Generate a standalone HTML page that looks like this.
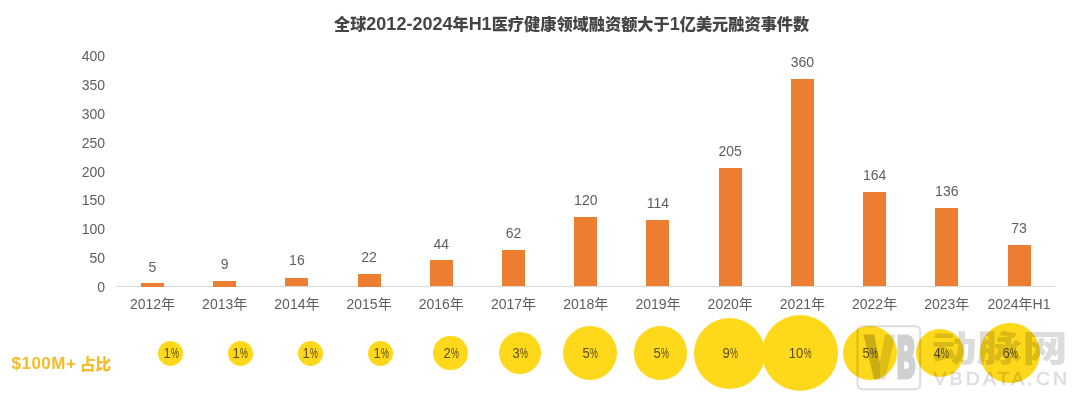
<!DOCTYPE html>
<html lang="zh-CN"><head><meta charset="utf-8"><title>chart</title>
<style>
html,body{margin:0;padding:0;background:#fff;}
body{width:1080px;height:401px;position:relative;overflow:hidden;font-family:"Liberation Sans","Noto Sans CJK SC",sans-serif;color:#5e5e5e;}
.abs{position:absolute;white-space:nowrap;}
.title{left:271.6px;width:600px;top:12px;text-align:center;font-weight:900;font-size:16.2px;line-height:24px;color:#454545;}
.title b{font-size:18px;font-weight:bold;}
.yl{width:40px;text-align:right;left:65px;font-size:14px;line-height:16px;}
.xl{width:90px;text-align:center;font-size:14px;line-height:16px;top:296px;}
.vl{width:60px;text-align:center;font-size:14px;line-height:16px;}
.bar{background:#ed7d31;width:23px;}
.axis{left:116px;top:286px;width:939px;height:1px;background:#d9d9d9;}
.bub{border-radius:50%;background:#fdd81b;}
.pl{width:60px;text-align:center;font-size:14px;line-height:16px;color:#5e4e14;transform:scaleX(.93);}
.pl i{font-style:normal;display:inline-block;transform:scaleX(.68);transform-origin:0 50%;margin-right:-4px;}
.lab{left:11.5px;top:352.2px;font-weight:900;font-size:15.5px;line-height:24px;color:#f6bb28;}
.lab span{position:relative;top:.7px;}
.lab b{font-size:17px;font-weight:bold;letter-spacing:.5px;margin-right:3.5px;}
</style></head><body>

<div class="abs title">全球<b>2012-2024</b>年<b>H1</b>医疗健康领域融资额大于<b>1</b>亿美元融资事件数</div>
<div class="abs yl" style="top:278.9px">0</div>
<div class="abs yl" style="top:250.1px">50</div>
<div class="abs yl" style="top:221.2px">100</div>
<div class="abs yl" style="top:192.4px">150</div>
<div class="abs yl" style="top:163.6px">200</div>
<div class="abs yl" style="top:134.8px">250</div>
<div class="abs yl" style="top:105.9px">300</div>
<div class="abs yl" style="top:77.1px">350</div>
<div class="abs yl" style="top:48.3px">400</div>
<div class="abs axis"></div>
<div class="abs bar" style="left:141px;top:283.0px;height:3.5px"></div>
<div class="abs vl" style="left:122.5px;top:258.9px">5</div>
<div class="abs xl" style="left:107.5px">2012年</div>
<div class="abs bar" style="left:213px;top:281.0px;height:5.5px"></div>
<div class="abs vl" style="left:194.7px;top:256.2px">9</div>
<div class="abs xl" style="left:179.7px">2013年</div>
<div class="abs bar" style="left:285px;top:277.6px;height:8.9px"></div>
<div class="abs vl" style="left:266.9px;top:252.4px">16</div>
<div class="abs xl" style="left:251.9px">2014年</div>
<div class="abs bar" style="left:358px;top:273.5px;height:13.0px"></div>
<div class="abs vl" style="left:339.1px;top:248.7px">22</div>
<div class="abs xl" style="left:324.1px">2015年</div>
<div class="abs bar" style="left:430px;top:260.4px;height:26.1px"></div>
<div class="abs vl" style="left:411.3px;top:235.6px">44</div>
<div class="abs xl" style="left:396.3px">2016年</div>
<div class="abs bar" style="left:502px;top:249.8px;height:36.7px"></div>
<div class="abs vl" style="left:483.5px;top:224.9px">62</div>
<div class="abs xl" style="left:468.5px">2017年</div>
<div class="abs bar" style="left:574px;top:217.2px;height:69.3px"></div>
<div class="abs vl" style="left:555.8px;top:192.3px">120</div>
<div class="abs xl" style="left:540.8px">2018年</div>
<div class="abs bar" style="left:646px;top:220.4px;height:66.1px"></div>
<div class="abs vl" style="left:628.0px;top:195.4px">114</div>
<div class="abs xl" style="left:613.0px">2019年</div>
<div class="abs bar" style="left:719px;top:167.6px;height:118.9px"></div>
<div class="abs vl" style="left:700.2px;top:142.7px">205</div>
<div class="abs xl" style="left:685.2px">2020年</div>
<div class="abs bar" style="left:791px;top:79.2px;height:207.3px"></div>
<div class="abs vl" style="left:772.4px;top:54.0px">360</div>
<div class="abs xl" style="left:757.4px">2021年</div>
<div class="abs bar" style="left:863px;top:192.3px;height:94.2px"></div>
<div class="abs vl" style="left:844.6px;top:167.0px">164</div>
<div class="abs xl" style="left:829.6px">2022年</div>
<div class="abs bar" style="left:935px;top:208.4px;height:78.1px"></div>
<div class="abs vl" style="left:916.8px;top:183.4px">136</div>
<div class="abs xl" style="left:901.8px">2023年</div>
<div class="abs bar" style="left:1008px;top:245.2px;height:41.3px"></div>
<div class="abs vl" style="left:989.0px;top:220.0px">73</div>
<div class="abs xl" style="left:974.0px">2024年H1</div>
<div class="abs bub" style="left:157.8px;top:340.7px;width:25.0px;height:25.0px"></div>
<div class="abs bub" style="left:227.5px;top:340.7px;width:25.0px;height:25.0px"></div>
<div class="abs bub" style="left:297.5px;top:340.7px;width:25.0px;height:25.0px"></div>
<div class="abs bub" style="left:367.8px;top:340.7px;width:25.0px;height:25.0px"></div>
<div class="abs bub" style="left:433.1px;top:335.9px;width:34.5px;height:34.5px"></div>
<div class="abs bub" style="left:498.8px;top:331.9px;width:42.5px;height:42.5px"></div>
<div class="abs bub" style="left:562.8px;top:325.9px;width:54.5px;height:54.5px"></div>
<div class="abs bub" style="left:633.7px;top:326.4px;width:53.6px;height:53.6px"></div>
<div class="abs bub" style="left:693.8px;top:317.7px;width:71.0px;height:71.0px"></div>
<div class="abs bub" style="left:762.0px;top:315.2px;width:76.0px;height:76.0px"></div>
<div class="abs bub" style="left:843.0px;top:326.2px;width:54.0px;height:54.0px"></div>
<div class="abs bub" style="left:916.4px;top:329.2px;width:48.0px;height:48.0px"></div>
<div class="abs bub" style="left:980.0px;top:323.4px;width:59.5px;height:59.5px"></div>
<div class="abs pl" style="left:140.5px;top:345.0px">1<i>%</i></div>
<div class="abs pl" style="left:210.2px;top:345.0px">1<i>%</i></div>
<div class="abs pl" style="left:280.2px;top:345.0px">1<i>%</i></div>
<div class="abs pl" style="left:350.5px;top:345.0px">1<i>%</i></div>
<div class="abs pl" style="left:420.5px;top:345.0px">2<i>%</i></div>
<div class="abs pl" style="left:490.2px;top:345.0px">3<i>%</i></div>
<div class="abs pl" style="left:560.2px;top:345.0px">5<i>%</i></div>
<div class="abs pl" style="left:630.7px;top:345.0px">5<i>%</i></div>
<div class="abs pl" style="left:699.5px;top:345.0px">9<i>%</i></div>
<div class="abs pl" style="left:770.2px;top:345.0px">10<i>%</i></div>
<div class="abs pl" style="left:840.2px;top:345.0px">5<i>%</i></div>
<div class="abs pl" style="left:910.6px;top:345.0px">4<i>%</i></div>
<div class="abs pl" style="left:980.0px;top:345.0px">6<i>%</i></div>
<svg class="abs" style="left:850px;top:318px" width="230" height="83" viewBox="850 318 230 83">
<defs><mask id="vm" maskUnits="userSpaceOnUse" x="850" y="318" width="80" height="83"><rect x="850" y="318" width="30.2" height="83" fill="#fff" fill-opacity=".2"/><rect x="880.2" y="318" width="40" height="83" fill="#fff" fill-opacity=".12"/></mask></defs>
<g font-family="'Noto Sans CJK SC','Liberation Sans',sans-serif" font-weight="900" font-size="55.9" fill="#000" stroke="#000" stroke-width="3" stroke-linejoin="miter">
<g mask="url(#vm)"><text transform="translate(865.6 378.1) scale(.78 1)">V</text></g>
<g opacity=".18"><text transform="translate(895.7 378.1) scale(.516 1)">B</text></g>
</g>
<g opacity=".135" fill="#000">
<rect x="857.5" y="326.3" width="62.7" height="63" rx="5" ry="5" fill="none" stroke="#000" stroke-width="2"/>
<text x="931.5" y="361.5" font-family="'Noto Sans CJK SC',sans-serif" font-weight="900" font-size="36" textLength="136" lengthAdjust="spacingAndGlyphs">动脉网</text>
<text transform="translate(933.4 385.3) scale(1.06 1)" font-family="'Liberation Sans',sans-serif" font-size="18.4" textLength="126.2" lengthAdjust="spacing" stroke="#000" stroke-width=".6">VBDATA.CN</text>
</g></svg>
<div class="abs lab"><b>$100M+</b><span>占比</span></div>
</body></html>
